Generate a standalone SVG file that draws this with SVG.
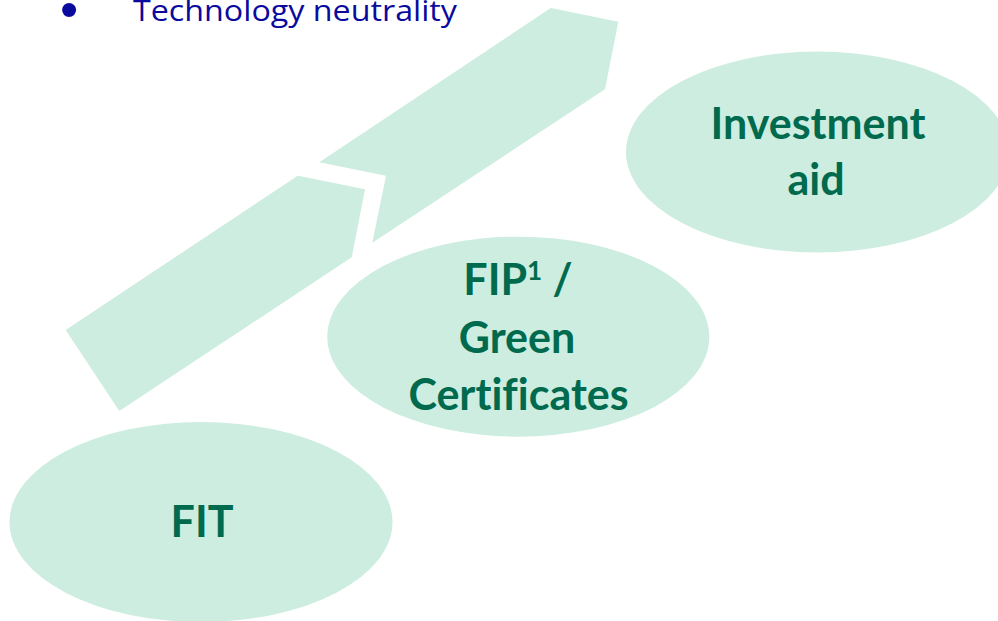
<svg xmlns="http://www.w3.org/2000/svg" width="998" height="621" viewBox="0 0 998 621">
  <style>
    .shape { fill: #CCEDDF; }
    .label { font-family: Lato, "Open Sans", "Liberation Sans", sans-serif; font-weight: bold; font-size: 43px; fill: #006A4E; text-anchor: middle; font-variant-ligatures: none; }
    .heading { font-family: "Open Sans", "Liberation Sans", sans-serif; font-size: 30px; fill: #0A0A9E; }
    .bullet { font-family: "Liberation Sans", Arial, sans-serif; font-size: 52px; fill: #0A0A9E; text-anchor: middle; }
  </style>

  <!-- heading bullet -->
  <g id="heading">
    <text class="bullet" x="69" y="27">•</text>
    <text class="heading" x="133" y="21" textLength="324" lengthAdjust="spacingAndGlyphs">Technology neutrality</text>
  </g>

  <!-- progression arrows -->
  <g id="connectors">
    <polygon class="shape" points="65.7,330 297.7,175.7 365,189.3 351.7,257.3 119.3,411"/>
    <polygon class="shape" points="319.3,162.3 550.7,8 618.3,21.7 605,89.3 372.3,242.7 386,175.7"/>
  </g>

  <g id="node-fit">
    <ellipse class="shape" cx="201" cy="522" rx="191.5" ry="100"/>
    <text class="label" x="202" y="537">FIT</text>
  </g>

  <g id="node-fip">
    <ellipse class="shape" cx="518.3" cy="336.7" rx="191" ry="100"/>
    <text class="label" x="518" y="295">FIP<tspan style="font-size:26px" dy="-15">1</tspan><tspan dy="15"> /</tspan></text>
    <text class="label" x="517" y="353">Green</text>
    <text class="label" x="518.5" y="410">Certificates</text>
  </g>

  <g id="node-investment">
    <ellipse class="shape" cx="817.5" cy="152" rx="191.5" ry="100.5"/>
    <text class="label" x="818" y="139">Investment</text>
    <text class="label" x="816" y="195">aid</text>
  </g>
</svg>
